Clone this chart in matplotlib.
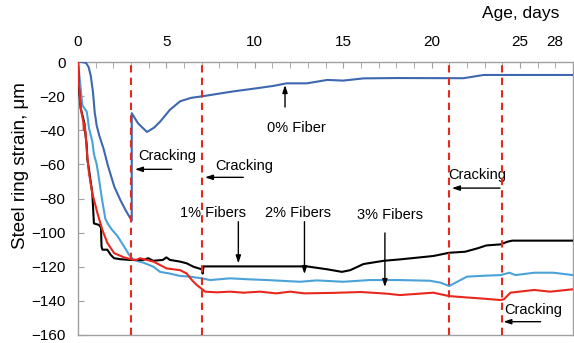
import matplotlib
matplotlib.use('Agg')
from matplotlib import pyplot as plt
from matplotlib.transforms import ScaledTranslation

plt.rcParams['font.family'] = ['Liberation Sans', 'DejaVu Sans']

# 0% fiber (dark blue), jump at first cracking
day_0 = [0, 0.2, 0.45, 0.6, 0.72, 0.85, 0.95, 1.0, 1.05, 1.2, 1.45, 1.7, 2.05, 2.4, 2.7, 3.04,
         3.04, 3.4, 3.9, 4.3, 4.64, 5.2, 5.78, 6.4, 7.1, 8.0, 8.8, 10.1, 11.06, 11.8, 12.95,
         14.1, 15.0, 16.15, 18.0, 21.8, 22.4, 22.95, 28]
val_0 = [0, 0, -0.5, -3, -8, -18, -30, -33, -37, -43, -51, -61, -73, -81, -87, -93,
         -30, -36, -41, -38.5, -35, -28, -23, -21, -20, -18.5, -17.2, -15.4, -14, -12.5, -12.5,
         -10.5, -10.9, -9.6, -9.4, -9.5, -8.5, -7.6, -7.6]

# light blue
day_lb = [0, 0.1, 0.24, 0.35, 0.49, 0.55, 0.62, 0.81, 0.9, 1.06, 1.15, 1.35, 1.55, 1.7, 1.9,
          2.23, 2.6, 2.89, 3.13, 3.7, 4.27, 4.64, 5.2, 5.78, 6.34, 7.0, 7.47, 8.6, 9.74, 10.7,
          12.57, 13.5, 15.0, 16.5, 18.2, 19.9, 20.5, 21.0, 21.45, 22.0, 23.1, 23.9, 24.4,
          24.75, 25.8, 26.9, 28]
val_lb = [0, -10, -25, -27, -29, -33, -38.7, -46.5, -54, -60, -66, -80, -92, -95, -98,
          -102, -108, -113, -116, -117.6, -120, -123, -124, -125.4, -125.8, -126.8, -127.8,
          -126.8, -127.4, -127.8, -128.8, -128, -128.8, -127.8, -127.8, -128.2, -129.3, -131.3,
          -128.8, -125.8, -125.2, -124.9, -123.5, -124.9, -123.5, -123.5, -124.9]

# black
day_bk = [0, 0.05, 0.15, 0.34, 0.49, 0.53, 0.62, 0.81, 0.9, 1.19, 1.3, 1.33, 1.38, 1.66, 1.85,
          2.04, 2.42, 2.94, 3.7, 3.97, 4.25, 4.8, 5.0, 5.2, 5.78, 6.15, 6.53, 7.0, 7.05, 7.1,
          12.95, 14.1, 14.93, 15.4, 16.15, 17.3, 18.2, 20.1, 21.0, 21.9, 22.6, 23.1, 23.9,
          24.3, 24.56, 28]
val_bk = [0, -15, -27, -35, -48.5, -57, -63, -77, -94.6, -95.5, -97, -108, -110, -110, -113,
          -115, -115.6, -116, -116, -115, -116.5, -116, -114.5, -116, -117, -118, -120, -121.5,
          -124, -119.8, -119.8, -121.5, -123, -122, -118.4, -116.5, -115.7, -113.7, -111.8,
          -111.2, -109.2, -107.5, -106.9, -105.3, -104.7, -104.7]

# red
day_rd = [0, 0.05, 0.15, 0.3, 0.33, 0.37, 0.42, 0.53, 0.62, 0.81, 1.1, 1.38, 1.66, 2.04, 2.6,
          3.07, 3.32, 3.5, 4.27, 4.64, 5.02, 5.78, 6.15, 6.44, 6.72, 7.0, 7.2, 7.85, 8.6, 9.36,
          10.3, 11.2, 12.0, 12.8, 14.5, 16.0, 17.5, 18.2, 20.1, 21.0, 22.0, 22.95, 23.9, 24.1,
          24.46, 25.8, 26.7, 28]
val_rd = [0, -12, -27, -35, -40, -36, -41, -56, -65, -77, -88.6, -98.5, -106, -112, -114.5,
          -115.8, -116, -115, -117, -119, -121, -122, -124, -127.8, -130.7, -133, -134.6, -135,
          -134.6, -135.2, -134.6, -135.6, -134.6, -135.6, -135.3, -134.8, -135.8, -136.6,
          -135.2, -137.2, -138, -138.7, -139.5, -139, -135.2, -133.6, -134.6, -133.2]

crack_days = [3, 7, 21, 24]

# (text, text x, text y, arrow tail x, tail y, tip x, tip y)
notes = [
    ('0% Fiber', 12.33, -38.7, 11.71, -26.4, 11.71, -13.5),
    ('Cracking', 5.03, -55.1, 5.3, -62.9, 3.22, -62.9),
    ('Cracking', 9.42, -61.0, 9.35, -67.6, 7.18, -67.6),
    ('1% Fibers', 7.61, -88.5, 9.07, -93.6, 9.07, -118.0),
    ('2% Fibers', 12.42, -88.5, 12.81, -93.6, 12.81, -124.3),
    ('3% Fibers', 17.63, -89.7, 17.36, -100.2, 17.36, -131.9),
    ('Cracking', 22.6, -66.2, 23.87, -73.9, 21.15, -73.9),
    ('Cracking', 25.74, -145.4, 26.17, -152.2, 24.06, -152.2),
]

xticks = [0, 5, 10, 15, 20, 25, 28]
yticks = list(range(-160, 1, 20))

fig = plt.figure(figsize=(5.74, 3.43), dpi=100)
ax = fig.add_axes([78 / 574, 8 / 343, 495 / 574, 273 / 343])

ax.plot(day_0, val_0, color='#3d68b0', lw=1.5, zorder=3)
ax.plot(day_lb, val_lb, color='#4aa3d8', lw=1.5, zorder=3)
ax.plot(day_bk, val_bk, color='black', lw=1.5, zorder=4)
ax.plot(day_rd, val_rd, color='#e8281e', lw=1.5, zorder=5)

for d in crack_days:
    ax.axvline(d, color='#e8281e', lw=1.5, dashes=(3.5, 2.5), zorder=6)

for txt, tx, ty, x0, y0, x1, y1 in notes:
    ax.text(tx, ty, txt, ha='center', va='center', fontsize=10.5)
    ax.annotate('', xy=(x1, y1), xytext=(x0, y0),
                arrowprops=dict(arrowstyle='-|>,head_length=0.45,head_width=0.15',
                                color='black', lw=1.0, shrinkA=0, shrinkB=0))

ax.set_xlim(0, 28)
ax.set_ylim(-160, 0)
ax.xaxis.tick_top()
ax.set_xticks(xticks)
ax.set_xticks(range(0, 29), minor=True)
ax.set_yticks(yticks)
ax.tick_params(axis='x', which='both', direction='in', length=4, color='#a0a0a0',
               labelsize=11, pad=9)
ax.tick_params(axis='y', direction='in', length=4, color='#a0a0a0', labelsize=11, pad=9)
# last label sits a bit left of the axis end, as in the original
lbl = ax.get_xticklabels()[-1]
lbl.set_transform(lbl.get_transform() + ScaledTranslation(-18 / 100, 0, fig.dpi_scale_trans))

for s in ax.spines.values():
    s.set_color('#a0a0a0')
    s.set_linewidth(1.0)

ax.text(0.895, 1.176, 'Age, days', transform=ax.transAxes, ha='center', va='center',
        fontsize=12.5)
ax.text(-0.117, 0.62, 'Steel ring strain, \u03bcm', transform=ax.transAxes, rotation=90,
        ha='center', va='center', fontsize=13.5)

fig.savefig('out.png', dpi=100)
